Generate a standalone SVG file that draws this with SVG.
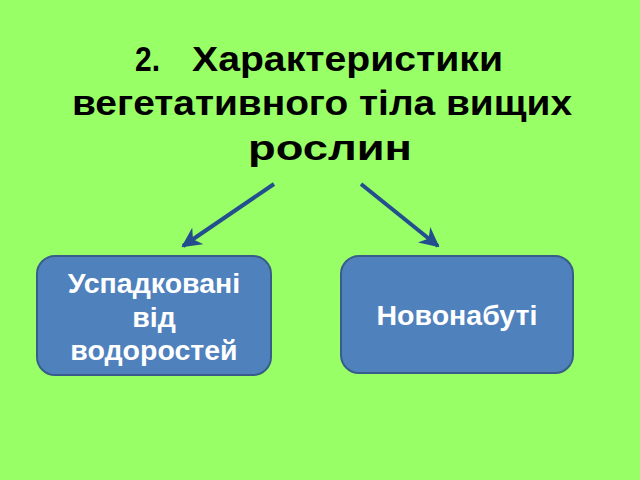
<svg xmlns="http://www.w3.org/2000/svg" width="640" height="480" viewBox="0 0 640 480">
<defs>
<style>
.title{font-family:"Liberation Sans",Arial,sans-serif;font-weight:bold;font-size:35px;fill:#000}
.box{fill:#4F81BD;stroke:#385D8A;stroke-width:2}
.lbl{font-family:"Liberation Sans",Arial,sans-serif;font-weight:bold;font-size:28.5px;fill:#fff;text-anchor:middle}
.arr{stroke:#234F8E;stroke-width:4;fill:none}
</style>
<marker id="ah" viewBox="0 0 10 10" refX="9" refY="5" markerWidth="5" markerHeight="5" orient="auto" markerUnits="strokeWidth">
<path d="M0,0 L10,5 L0,10 L3,5 Z" fill="#234F8E"/>
</marker>
</defs>
<rect width="640" height="480" fill="#99FF66"/>
<g id="title">
<text class="title" x="135" y="71" textLength="25" lengthAdjust="spacingAndGlyphs">2.</text>
<text class="title" x="192" y="71" textLength="311" lengthAdjust="spacingAndGlyphs">Характеристики</text>
<text class="title" x="72" y="115" textLength="500" lengthAdjust="spacingAndGlyphs">вегетативного тіла вищих</text>
<text class="title" x="248" y="160" textLength="164" lengthAdjust="spacingAndGlyphs">рослин</text>
</g>
<g id="connectors">
<line class="arr" x1="274" y1="184" x2="183" y2="246" marker-end="url(#ah)"/>
<line class="arr" x1="361" y1="184" x2="438" y2="246" marker-end="url(#ah)"/>
</g>
<g id="node1">
<rect class="box" x="37" y="256" width="234" height="119" rx="18"/>
<text class="lbl" x="154" y="293">Успадковані</text>
<text class="lbl" x="154" y="327">від</text>
<text class="lbl" x="154" y="360">водоростей</text>
</g>
<g id="node2">
<rect class="box" x="341" y="256" width="232" height="117" rx="18"/>
<text class="lbl" x="457" y="325">Новонабуті</text>
</g>
</svg>
